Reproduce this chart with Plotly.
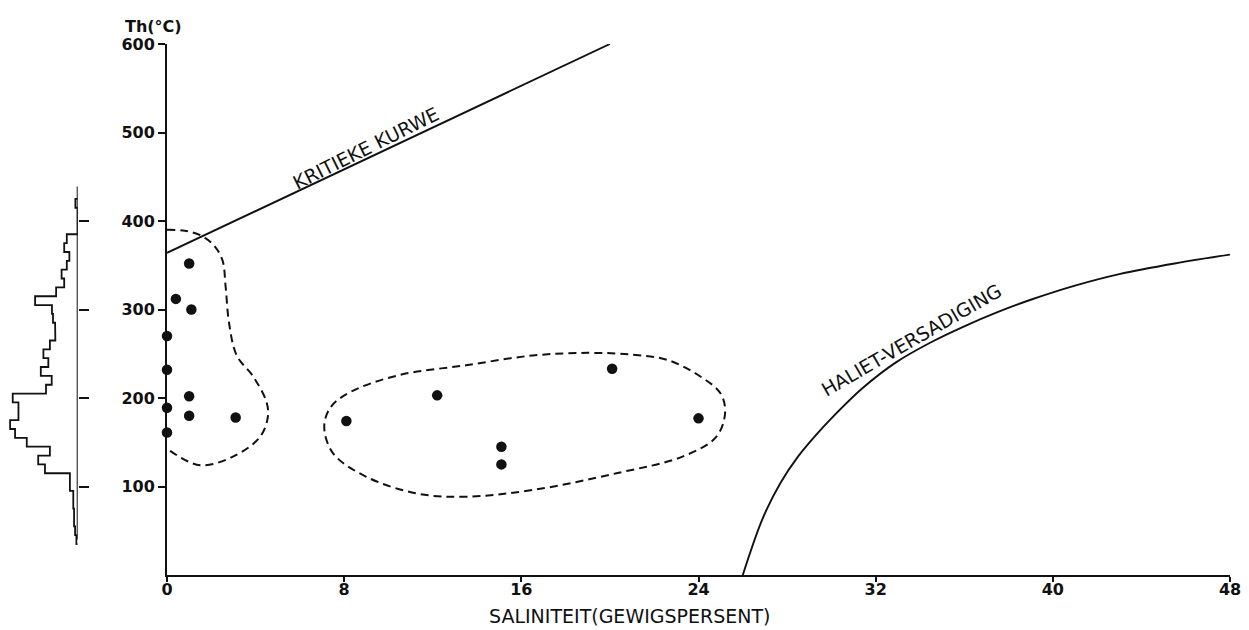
import plotly.graph_objects as go

# --- Fluid inclusion data: salinity (wt% NaCl eq.) vs homogenisation temperature ---
left_sal = [1.0, 0.4, 1.1, 0.0, 0.0, 1.0, 0.0, 1.0, 3.1, 0.0]
left_th = [352, 312, 300, 270, 232, 202, 189, 180, 178, 161]

mid_sal = [8.1, 12.2, 20.1, 24.0, 15.1, 15.1]
mid_th = [174, 203, 233, 177, 145, 125]

# Outline of the low-salinity group (open against the temperature axis)
env1_sal = [0.0, 0.8, 1.5, 2.1, 2.5, 2.65, 2.8, 3.15, 3.9, 4.5, 4.55, 4.2, 3.0, 1.5, 0.1]
env1_th = [390, 389, 384, 373, 356, 325, 285, 248, 224, 195, 178, 156, 134, 124, 141]

# Outline of the moderate-salinity group
env2_sal = [7.1, 7.4, 8.3, 10.5, 13.5, 16.5, 19.0, 21.0, 22.6, 24.1, 25.0, 25.2, 24.8,
            23.3, 20.3, 16.5, 13.5, 11.3, 9.0, 7.5, 7.1]
env2_th = [168, 190, 207, 226, 237, 248, 251, 249, 243, 224, 205, 183, 156,
           134, 115, 96, 88.5, 92, 111, 137.5, 168]

# Critical curve and halite saturation curve
crit_sal = [0, 20]
crit_th = [364, 600]
hal_sal = [26.0, 26.9, 27.7, 28.5, 29.3, 30.0, 31.4, 32.9, 34.5, 36.0, 37.5, 39.0,
           41.0, 43.0, 45.5, 48.0]
hal_th = [0, 64, 104, 134, 158, 177, 211, 240, 263, 281, 297, 311, 327, 340, 352, 362]

# Frequency histogram of Th (10 degree bins, lower edges)
hist_lo = [35, 45, 55, 65, 75, 85, 95, 105, 115, 125, 135, 145, 155, 165, 175, 185,
           195, 205, 215, 225, 235, 245, 255, 265, 275, 285, 295, 305, 315, 325,
           335, 345, 355, 365, 375, 385, 395, 405, 415]
hist_n = [0.5, 1.0, 1.4, 1.4, 1.7, 1.7, 3.0, 3.0, 12.6, 15.2, 10.7, 19.6, 24.1, 26.0,
          22.8, 22.8, 25.0, 12.2, 10.0, 14.2, 11.3, 13.2, 10.7, 8.6, 8.7, 9.5, 9.9,
          16.4, 8.3, 5.2, 6.2, 4.2, 3.2, 5.2, 4.2, 0.0, 0.0, 0.0, 0.9]
hist_bin = 10
hist_span = [40, 439]

x_ticks = [0, 8, 16, 24, 32, 40, 48]
y_ticks = [100, 200, 300, 400, 500, 600]
hist_ticks = [100, 200, 300, 400]

FONT = "DejaVu Sans"
INK = "#111111"
W, H = 1249, 630
ML, MR, MT, MB = 0, 19, 44, 55
PW = W - ML - MR
PH = H - MT - MB
main_left = 167 / PW
hist_right = 77.7 / PW

# step outline of the histogram, drawn leftwards from its axis
hx, hy = [0], [hist_lo[0]]
for lo, n in zip(hist_lo, hist_n):
    hx += [n, n]
    hy += [lo, lo + hist_bin]
hx.append(0)
hy.append(hist_lo[-1] + hist_bin)

fig = go.Figure()

dash_style = dict(color=INK, width=2, dash="8px,5px")

fig.add_trace(go.Scatter(x=crit_sal, y=crit_th, mode="lines",
                         line=dict(color=INK, width=1.9),
                         cliponaxis=False, hoverinfo="skip"))
fig.add_trace(go.Scatter(x=hal_sal, y=hal_th, mode="lines",
                         line=dict(color=INK, width=1.9, shape="spline", smoothing=1.0),
                         cliponaxis=False, hoverinfo="skip"))
fig.add_trace(go.Scatter(x=env1_sal, y=env1_th, mode="lines",
                         line=dict(dash_style, shape="spline", smoothing=1.0),
                         hoverinfo="skip"))
fig.add_trace(go.Scatter(x=env2_sal, y=env2_th, mode="lines",
                         line=dict(dash_style, shape="spline", smoothing=1.0),
                         hoverinfo="skip"))
fig.add_trace(go.Scatter(x=left_sal + mid_sal, y=left_th + mid_th, mode="markers",
                         marker=dict(color=INK, size=10.5), cliponaxis=False))

# histogram panel
fig.add_trace(go.Scatter(x=hx, y=hy, mode="lines", xaxis="x2", yaxis="y2",
                         line=dict(color=INK, width=1.8), cliponaxis=False,
                         hoverinfo="skip"))
fig.add_trace(go.Scatter(x=[0, 0], y=hist_span, mode="lines", xaxis="x2", yaxis="y2",
                         line=dict(color=INK, width=2), cliponaxis=False,
                         hoverinfo="skip"))

tick_font = dict(family=FONT, size=16, color=INK, weight="bold")

fig.update_layout(
    width=W, height=H,
    margin=dict(l=ML, r=MR, t=MT, b=MB),
    paper_bgcolor="white", plot_bgcolor="white",
    showlegend=False,
    xaxis=dict(domain=[main_left, 1], range=[0, 48], tickvals=x_ticks,
               showgrid=False, zeroline=False, showline=True, linecolor=INK,
               linewidth=2, ticks="outside", ticklen=5, tickwidth=1.5,
               tickcolor=INK, tickfont=tick_font, anchor="y", automargin=False,
               ticklabelstandoff=-6),
    yaxis=dict(range=[0, 600], tickvals=y_ticks, showgrid=False, zeroline=False,
               showline=True, linecolor=INK, linewidth=2, ticks="outside",
               ticklen=7, tickwidth=1.5, tickcolor=INK, tickfont=tick_font,
               anchor="x", automargin=False),
    xaxis2=dict(domain=[0, hist_right], range=[29.9, 0], visible=False,
                anchor="y2", automargin=False),
    yaxis2=dict(range=[0, 600], anchor="x2", side="right", showgrid=False,
                zeroline=False, showline=False, ticks="outside", ticklen=10,
                tickwidth=1.5, tickcolor=INK, tickvals=hist_ticks,
                showticklabels=False, automargin=False),
)

label_font = dict(family=FONT, size=19, color=INK)
fig.add_annotation(text="Th(°C)", xref="paper", yref="paper",
                   x=153 / PW, y=(H - MB - 26) / PH, xanchor="center",
                   yanchor="middle", showarrow=False, font=dict(tick_font))
fig.add_annotation(text="SALINITEIT(GEWIGSPERSENT)", xref="x", yref="paper",
                   x=20.9, y=(H - MB - 616) / PH, xanchor="center", yanchor="middle",
                   showarrow=False, font=label_font)
fig.add_annotation(text="KRITIEKE KURWE", x=8.98, y=482, showarrow=False,
                   xanchor="center", yanchor="middle", textangle=-26.5,
                   font=label_font)
fig.add_annotation(text="HALIET-VERSADIGING", x=33.6, y=266, showarrow=False,
                   xanchor="center", yanchor="middle", textangle=-30,
                   font=label_font)

fig.write_html("out.html")
